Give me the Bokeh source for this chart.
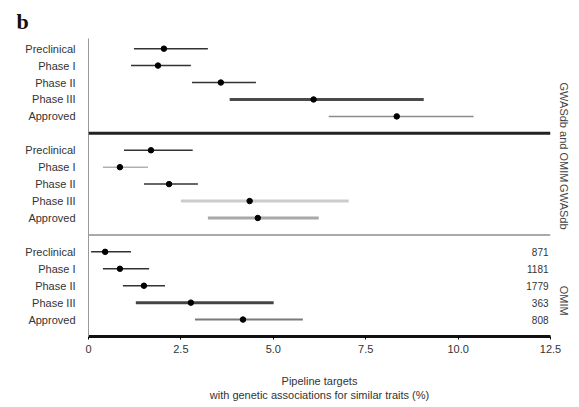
import math
from bokeh.plotting import figure
from bokeh.models import ColumnDataSource, Span, FixedTicker, LinearAxis
from bokeh.core.properties import value
from bokeh.embed import file_html
from bokeh.resources import INLINE

# ---- data ----
stages = ["Preclinical", "Phase I", "Phase II", "Phase III", "Approved"]
panels = ["GWASdb and OMIM", "GWASdb", "OMIM"]

both_est = [2.04, 1.88, 3.58, 6.09, 8.34]
both_lo = [1.23, 1.15, 2.80, 3.82, 6.50]
both_hi = [3.23, 2.77, 4.53, 9.07, 10.42]

gwas_est = [1.69, 0.85, 2.18, 4.36, 4.58]
gwas_lo = [0.96, 0.39, 1.50, 2.50, 3.23]
gwas_hi = [2.82, 1.61, 2.96, 7.04, 6.23]

omim_est = [0.45, 0.85, 1.50, 2.77, 4.18]
omim_lo = [0.07, 0.39, 0.93, 1.28, 2.88]
omim_hi = [1.15, 1.64, 2.07, 5.01, 5.80]

omim_counts = ["871", "1181", "1779", "363", "808"]

x_ticks = [0, 2.5, 5.0, 7.5, 10.0, 12.5]
x_tick_labels = ["0", "2.5", "5.0", "7.5", "10.0", "12.5"]

# ---- styles ----
line_colors = [
    ["#333333", "#333333", "#333333", "#4a4a4a", "#8c8c8c"],
    ["#333333", "#8a8a8a", "#333333", "#cccccc", "#a8a8a8"],
    ["#333333", "#333333", "#333333", "#444444", "#7a7a7a"],
]
line_widths = [
    [1.5, 1.5, 1.5, 3, 1.5],
    [1.5, 1, 1.5, 3, 3],
    [1.5, 1.5, 1.5, 3, 2],
]

FONT = "Liberation Sans"
W, H = 578, 403
BL, BT, FW, FH = 88, 38, 462, 302

est_all = [both_est, gwas_est, omim_est]
lo_all = [both_lo, gwas_lo, omim_lo]
hi_all = [both_hi, gwas_hi, omim_hi]

ys, est, lo, hi, cols, wids = [], [], [], [], [], []
tick_pos, overrides = [], {}
for pi in range(len(panels)):
    for r in range(len(stages)):
        y = -(pi * 6 + r)
        ys.append(y)
        est.append(est_all[pi][r])
        lo.append(lo_all[pi][r])
        hi.append(hi_all[pi][r])
        cols.append(line_colors[pi][r])
        wids.append(line_widths[pi][r])
        tick_pos.append(y)
        overrides[y] = stages[r]

src = ColumnDataSource(dict(y=ys, est=est, lo=lo, hi=hi, color=cols, width=wids))

y_lo, y_hi = -17, 0.6
p = figure(width=W, height=H, output_backend="svg", toolbar_location=None,
           x_range=(0, 12.5), y_range=(y_lo, y_hi),
           min_border_left=BL, min_border_right=W - BL - FW, min_border_top=BT,
           min_border_bottom=H - BT - FH)
p.outline_line_color = None
p.xgrid.visible = False
p.ygrid.visible = False

p.segment(x0="lo", x1="hi", y0="y", y1="y", line_color="color", line_width="width", source=src)
p.scatter(x="est", y="y", size=5.5, fill_color="black", line_color="black", source=src)

# OMIM counts
cnt_src = ColumnDataSource(dict(x=[12.5] * 5, y=[-(2 * 6 + r) for r in range(5)], t=omim_counts))
p.text(x="x", y="y", text="t", source=cnt_src, text_align="right", text_baseline="middle",
       text_font=value(FONT), text_font_size="10px", text_color="#333333", x_offset=-2)

# separators
p.add_layout(Span(location=-5, dimension="width", line_color="#222222", line_width=3))
p.add_layout(Span(location=-11, dimension="width", line_color="#aaaaaa", line_width=2))

# axes
p.xaxis.ticker = FixedTicker(ticks=x_ticks)
p.xaxis.major_label_overrides = {t: l for t, l in zip(x_ticks, x_tick_labels)}
p.xaxis.axis_line_width = 3
p.xaxis.axis_line_color = "#111111"
p.xaxis.major_tick_in = 0
p.xaxis.major_tick_out = 3
p.xaxis.minor_tick_line_color = None
p.xaxis.major_label_text_font = FONT
p.xaxis.major_label_text_font_size = "11px"
p.xaxis.major_label_text_color = "#333333"
p.xaxis.axis_label = "Pipeline targets\nwith genetic associations for similar traits (%)"
p.xaxis.axis_label_text_font = FONT
p.xaxis.axis_label_text_font_size = "11px"
p.xaxis.axis_label_text_font_style = "normal"
p.xaxis.axis_label_text_color = "#333333"
p.xaxis.axis_label_standoff = 19

p.yaxis.ticker = FixedTicker(ticks=tick_pos)
p.yaxis.major_label_overrides = overrides
p.yaxis.major_tick_line_color = None
p.yaxis.minor_tick_line_color = None
p.yaxis.axis_line_color = "#999999"
p.yaxis.axis_line_width = 1
p.yaxis.major_label_text_font = FONT
p.yaxis.major_label_text_font_size = "11px"
p.yaxis.major_label_text_color = "#333333"
p.yaxis.major_label_standoff = 7

# facet strip labels as a right-hand axis
centers = [-(i * 6 + 2) for i in range(len(panels))]
strip = LinearAxis(ticker=FixedTicker(ticks=centers),
                   major_label_overrides={c: n for c, n in zip(centers, panels)},
                   major_label_orientation=-math.pi / 2,
                   axis_line_color=None, major_tick_line_color=None,
                   minor_tick_line_color=None, major_tick_in=0, major_tick_out=0,
                   major_label_standoff=13,
                   major_label_text_font=FONT, major_label_text_font_size="11px",
                   major_label_text_color="#444444")
p.add_layout(strip, "right")

# panel letter
p.title.text = "b"
p.title.align = "left"
p.title.offset = -72
p.title.text_font = "Liberation Serif"
p.title.text_font_style = "bold"
p.title.text_font_size = "22px"
p.title.text_color = "#111111"

open("out.html", "w").write(file_html(p, INLINE))
